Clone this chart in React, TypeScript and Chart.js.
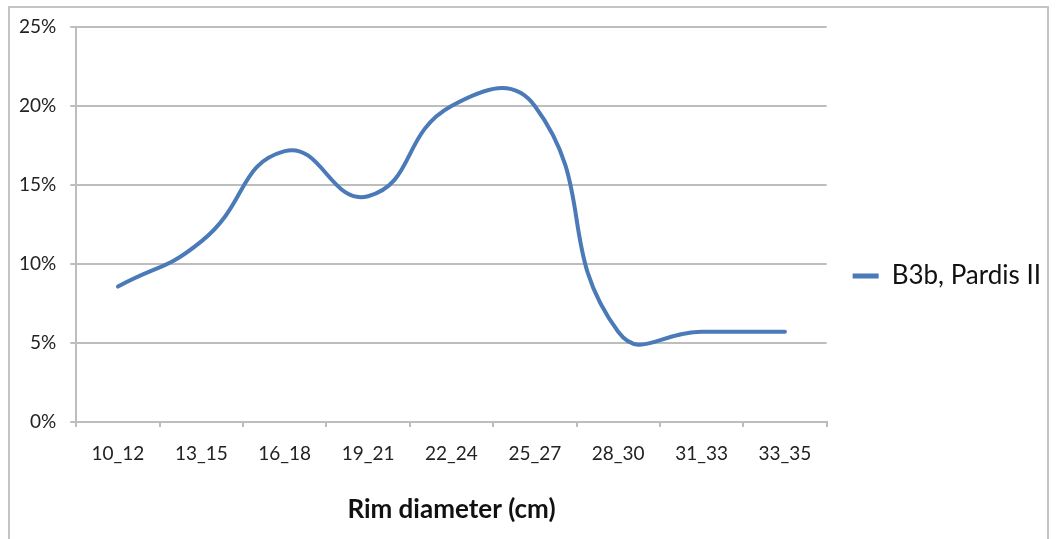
import React, { useEffect, useRef } from "react";
import { Chart, registerables } from "chart.js";

Chart.register(...registerables);

const categories = ["10_12", "13_15", "16_18", "19_21", "22_24", "25_27", "28_30", "31_33", "33_35"];
const seriesValues = [8.57, 11.43, 17.14, 14.29, 20.0, 20.0, 5.71, 5.71, 5.71];
const seriesName = "B3b, Pardis II";
const yTicks = [0, 5, 10, 15, 20, 25];
const xAxisTitle = "Rim diameter (cm)";

const FONT = "Lato, 'Open Sans', sans-serif";
const LINE_COLOR = "#4a7ab7";
const GRID_COLOR = "#bdbdbd";

export default function App() {
  const ref = useRef<HTMLCanvasElement>(null);

  useEffect(() => {
    if (!ref.current) return;
    const chart = new Chart(ref.current, {
      type: "line",
      data: {
        labels: categories,
        datasets: [
          {
            label: seriesName,
            data: seriesValues,
            borderColor: LINE_COLOR,
            backgroundColor: LINE_COLOR,
            borderWidth: 4,
            pointRadius: 0,
            tension: 0.5,
            fill: false,
            borderCapStyle: "round",
            borderJoinStyle: "round",
          },
        ],
      },
      options: {
        responsive: false,
        animation: false,
        layout: { padding: { left: 5, top: 27, right: 9, bottom: 14 } },
        plugins: {
          legend: {
            position: "right",
            labels: {
              boxWidth: 26,
              boxHeight: 5,
              padding: 26,
              color: "#111",
              font: { family: FONT, size: 26 },
              generateLabels: (c: any) =>
                Chart.defaults.plugins.legend.labels
                  .generateLabels(c)
                  .map((l: any) => ({ ...l, lineWidth: 0 })),
            },
          },
          tooltip: { enabled: false },
        },
        scales: {
          x: {
            offset: true,
            grid: {
              offset: true,
              drawOnChartArea: false,
              drawTicks: true,
              tickLength: 5,
              color: GRID_COLOR,
              lineWidth: 2,
            },
            border: { color: GRID_COLOR, width: 2 },
            ticks: {
              color: "#222",
              font: { family: FONT, size: 19 },
              padding: 15,
              maxRotation: 0,
              autoSkip: false,
            },
            title: {
              display: true,
              text: xAxisTitle,
              color: "#111",
              font: { family: FONT, size: 26, weight: "bold" },
              padding: { top: 14, bottom: 0 },
            },
          },
          y: {
            min: 0,
            max: 25,
            afterBuildTicks: (axis: any) => {
              axis.ticks = yTicks.map((v) => ({ value: v }));
            },
            grid: { color: GRID_COLOR, lineWidth: 2, tickLength: 6 },
            border: { color: GRID_COLOR, width: 2 },
            ticks: {
              color: "#222",
              font: { family: FONT, size: 19 },
              padding: 14,
              callback: (v: any) => v + "%",
            },
          },
        },
      },
    });
    return () => chart.destroy();
  }, []);

  return (
    <div
      style={{
        position: "fixed",
        left: 0,
        top: 0,
        width: 1060,
        height: 539,
        background: "#fff",
        overflow: "hidden",
      }}
    >
      <div
        style={{
          position: "absolute",
          left: 8,
          top: 6,
          width: 1041,
          height: 600,
          border: "2px solid #c4c4c4",
          boxSizing: "border-box",
        }}
      />
      <canvas
        ref={ref}
        width={1060}
        height={539}
        style={{ position: "absolute", left: 0, top: 0 }}
      />
    </div>
  );
}
